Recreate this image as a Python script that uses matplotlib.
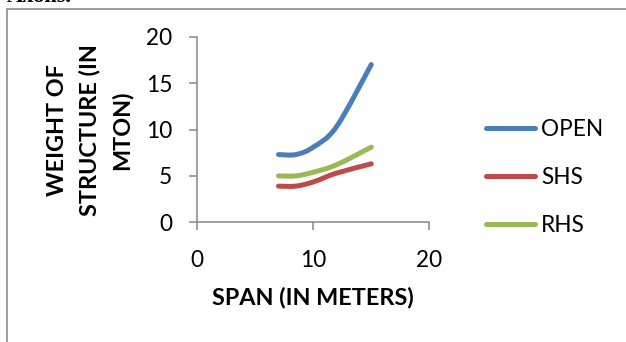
import matplotlib
matplotlib.use("Agg")
import matplotlib.pyplot as plt
from matplotlib.path import Path
from matplotlib.patches import PathPatch, Rectangle
from matplotlib.lines import Line2D

# ---- data ----
span = [7, 8.5, 10, 12, 15]
open_w = [7.3, 7.3, 8.1, 10.3, 17.0]
shs_w = [3.9, 3.9, 4.35, 5.3, 6.3]
rhs_w = [5.0, 5.0, 5.4, 6.2, 8.1]
series_names = ["OPEN", "SHS", "RHS"]
series_colors = ["#4A7EBB", "#BE4B48", "#98B954"]
x_ticks = [0, 10, 20]
y_ticks = [0, 5, 10, 15, 20]

FONT = "Lato"
FS = 16.3
plt.rcParams["font.family"] = [FONT, "DejaVu Sans"]

W, H = 626, 342
fig = plt.figure(figsize=(W / 100, H / 100), dpi=100)

# outer frame
fig.add_artist(Rectangle((6.5 / W, -0.05), 1.2, (H - 9) / H + 0.05,
                         transform=fig.transFigure, fill=False,
                         edgecolor="#8c8c8c", lw=1.2))
# remnant of text above the frame (cut at the top edge, as in the source)
fig.text(7 / W, 1 - 1.8 / H, "Axons.", family="Liberation Serif",
         fontsize=16, fontweight="bold", va="baseline", ha="left")

ax = fig.add_axes([197.3 / W, 1 - 222.3 / H, 232 / W, 185.6 / H])
ax.set_xlim(0, 20)
ax.set_ylim(0, 20)
ax.set_xticks(x_ticks)
ax.set_yticks(y_ticks)
ax.patch.set_alpha(0)
for s in ["top", "right"]:
    ax.spines[s].set_visible(False)
for s in ["left", "bottom"]:
    ax.spines[s].set_color("#868686")
    ax.spines[s].set_linewidth(1.1)
ax.tick_params(axis="both", direction="out", length=6, width=1.1,
               color="#868686", labelsize=FS, labelcolor="black")
ax.tick_params(axis="y", pad=12)
ax.tick_params(axis="x", pad=14)


def smooth_path(xs, ys):
    pts = list(zip(xs, ys))
    n = len(pts)
    verts = [pts[0]]
    codes = [Path.MOVETO]
    for i in range(n - 1):
        p0 = pts[i - 1] if i > 0 else pts[i]
        p1 = pts[i]
        p2 = pts[i + 1]
        p3 = pts[i + 2] if i + 2 < n else pts[i + 1]
        c1 = (p1[0] + (p2[0] - p0[0]) / 6, p1[1] + (p2[1] - p0[1]) / 6)
        c2 = (p2[0] - (p3[0] - p1[0]) / 6, p2[1] - (p3[1] - p1[1]) / 6)
        verts += [c1, c2, p2]
        codes += [Path.CURVE4] * 3
    return Path(verts, codes)


LW = 3.6
handles = []
for name, ys, col in zip(series_names, [open_w, shs_w, rhs_w], series_colors):
    patch = PathPatch(smooth_path(span, ys), fill=False, edgecolor=col,
                      lw=LW, capstyle="round", joinstyle="round")
    ax.add_patch(patch)
    handles.append(Line2D([], [], color=col, lw=LW, solid_capstyle="round",
                          label=name))

leg = fig.legend(handles=handles, loc="upper left",
                 bbox_to_anchor=(485.5 / W, 1 - 119 / H), frameon=False,
                 fontsize=FS, handlelength=2.2, handletextpad=0.25,
                 labelspacing=1.2, borderpad=0, borderaxespad=0)

fig.text(312.5 / W, 1 - 298 / H, "SPAN (IN METERS)", fontsize=16.8,
         fontweight="bold", ha="center", va="center")
fig.text(90 / W, 1 - 130.5 / H, "WEIGHT OF\nSTRUCTURE (IN\nMTON)",
         fontsize=16.8, fontweight="bold", ha="center", va="center",
         rotation=90, multialignment="center", linespacing=1.6)

fig.savefig("out.png", dpi=100)
